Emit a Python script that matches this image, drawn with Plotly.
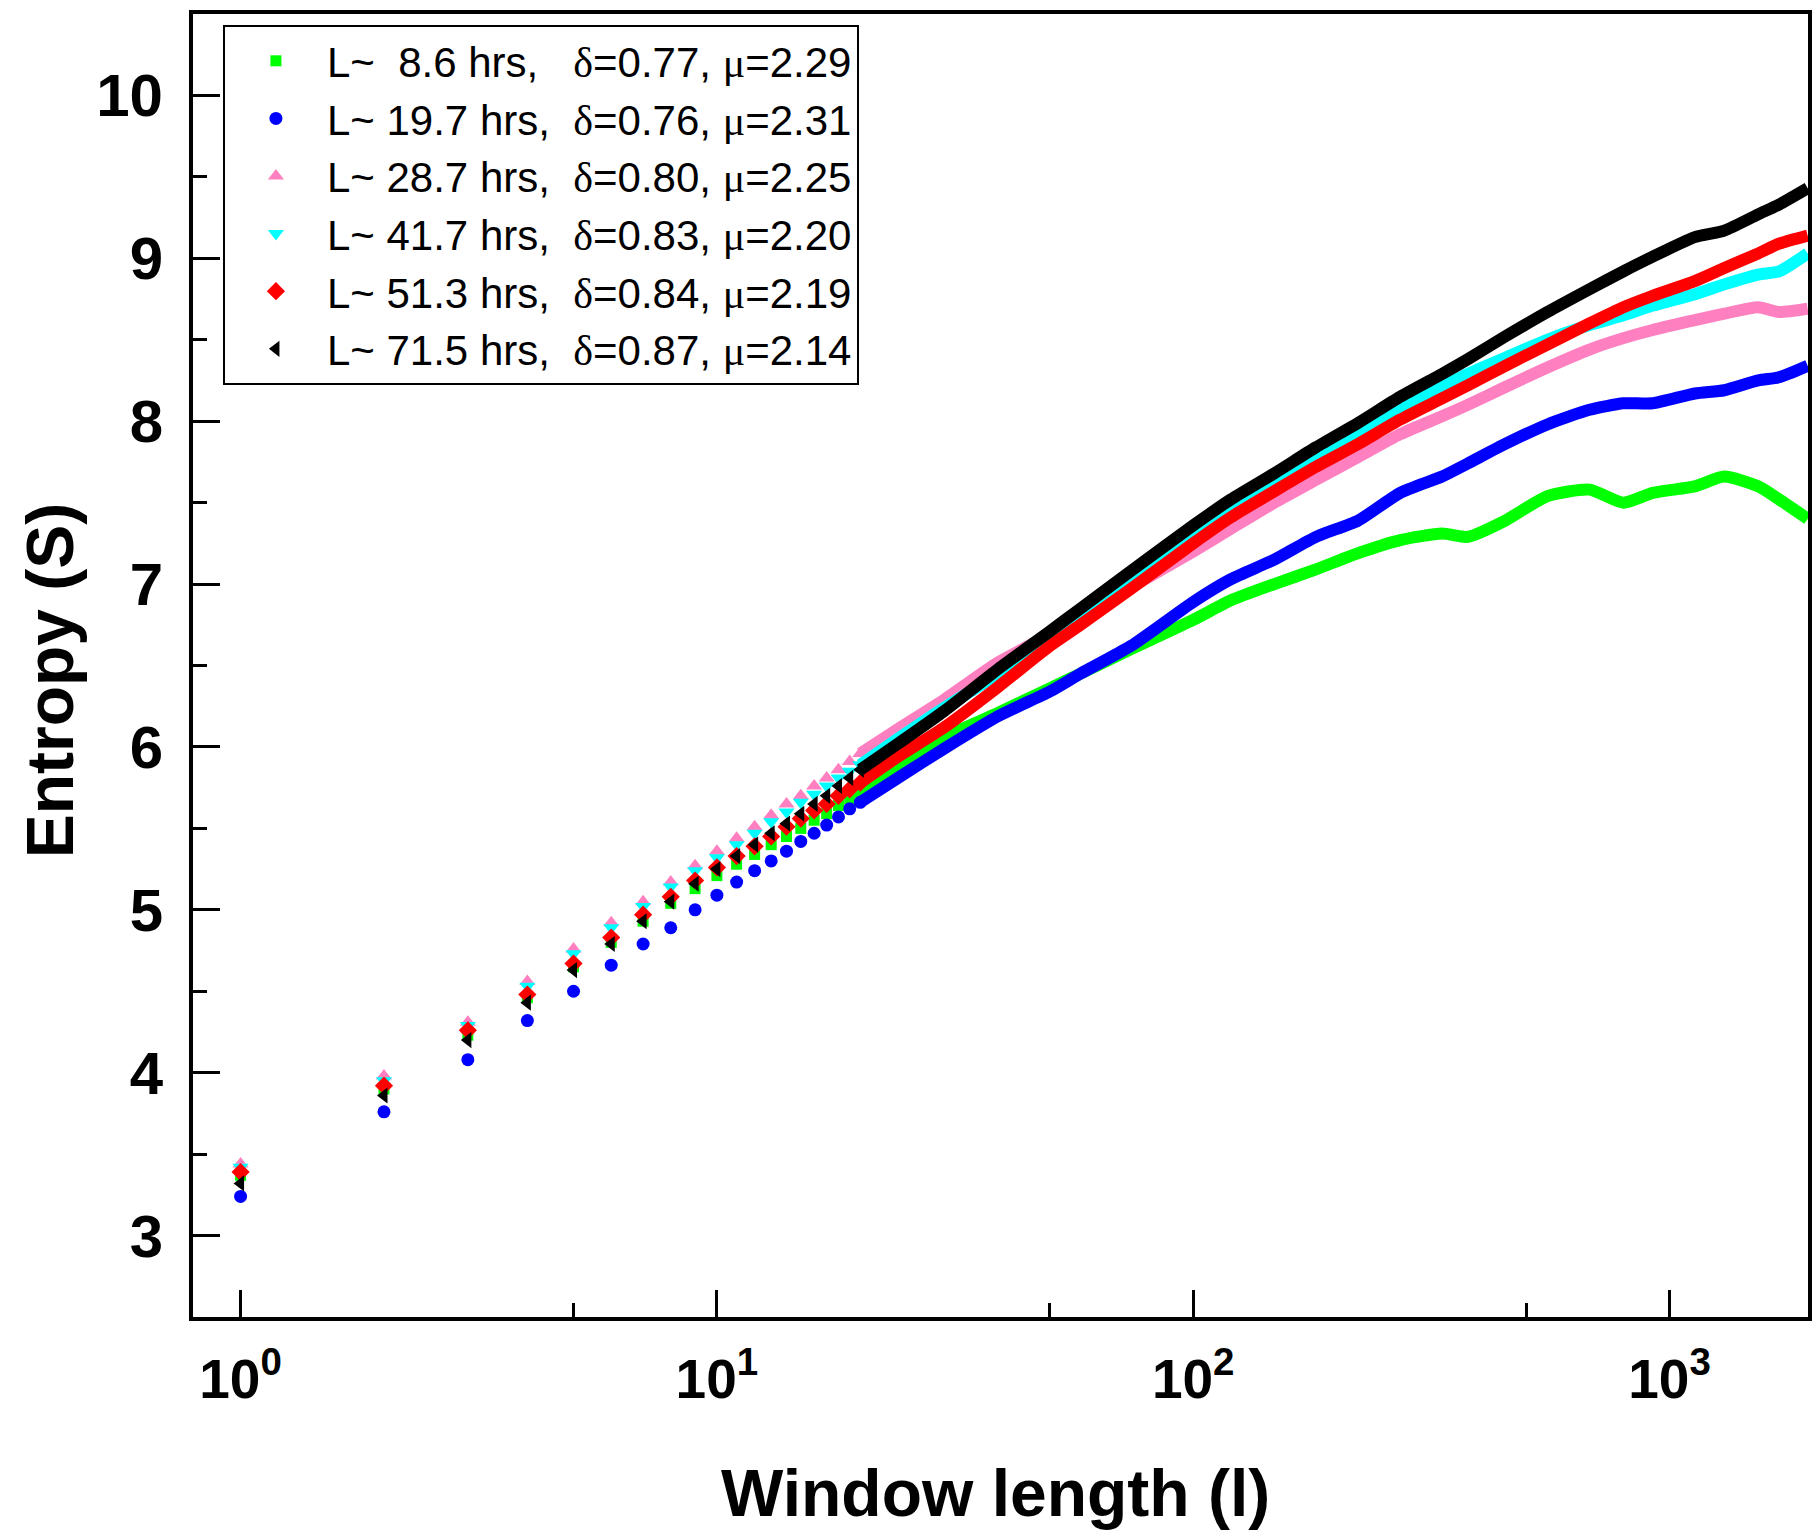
import plotly.graph_objects as go

# ---------------- data ----------------
L_small = list(range(1, 21))
S_green_small = [3.37, 3.90, 4.23, 4.46, 4.65, 4.80, 4.93, 5.04, 5.13, 5.21, 5.28, 5.34, 5.40, 5.45, 5.50, 5.55, 5.59, 5.64, 5.68, 5.72]
S_blue_small = [3.24, 3.76, 4.08, 4.32, 4.50, 4.66, 4.79, 4.89, 5.00, 5.09, 5.17, 5.24, 5.30, 5.36, 5.42, 5.47, 5.52, 5.57, 5.62, 5.66]
S_pink_small = [3.44, 3.98, 4.31, 4.56, 4.76, 4.92, 5.05, 5.17, 5.27, 5.36, 5.44, 5.51, 5.58, 5.65, 5.70, 5.76, 5.81, 5.86, 5.91, 5.96]
S_cyan_small = [3.42, 3.95, 4.29, 4.53, 4.73, 4.89, 5.02, 5.14, 5.24, 5.32, 5.40, 5.47, 5.54, 5.60, 5.66, 5.71, 5.76, 5.81, 5.85, 5.89]
S_red_small = [3.39, 3.92, 4.26, 4.48, 4.67, 4.83, 4.97, 5.08, 5.18, 5.26, 5.33, 5.39, 5.45, 5.51, 5.56, 5.61, 5.65, 5.70, 5.74, 5.78]
S_black_small = [3.32, 3.86, 4.20, 4.43, 4.63, 4.79, 4.93, 5.05, 5.16, 5.25, 5.33, 5.40, 5.47, 5.53, 5.59, 5.65, 5.70, 5.76, 5.81, 5.86]

L_big = [20, 24, 30, 39, 50, 58, 74, 100, 120, 148, 181, 222, 272, 333, 377, 452, 554, 679, 800, 922, 1130, 1303, 1535, 1698, 1950]
S_green_big = [5.72, 5.89, 6.06, 6.21, 6.36, 6.45, 6.60, 6.78, 6.90, 7.00, 7.09, 7.19, 7.27, 7.31, 7.29, 7.39, 7.54, 7.58, 7.50, 7.56, 7.60, 7.66, 7.60, 7.52, 7.40]
S_blue_big = [5.66, 5.81, 5.99, 6.19, 6.34, 6.45, 6.62, 6.89, 7.03, 7.15, 7.29, 7.39, 7.56, 7.66, 7.74, 7.86, 7.98, 8.07, 8.11, 8.11, 8.17, 8.19, 8.25, 8.27, 8.34]
S_pink_big = [5.96, 6.11, 6.29, 6.52, 6.69, 6.80, 6.98, 7.20, 7.34, 7.50, 7.64, 7.78, 7.92, 8.03, 8.10, 8.21, 8.33, 8.44, 8.51, 8.56, 8.62, 8.66, 8.70, 8.67, 8.69]
S_cyan_big = [5.89, 6.05, 6.24, 6.45, 6.67, 6.80, 7.03, 7.30, 7.46, 7.62, 7.78, 7.93, 8.08, 8.21, 8.29, 8.39, 8.50, 8.59, 8.65, 8.71, 8.78, 8.84, 8.90, 8.92, 9.03]
S_red_big = [5.78, 5.94, 6.12, 6.37, 6.62, 6.75, 6.97, 7.25, 7.41, 7.57, 7.72, 7.86, 8.01, 8.14, 8.22, 8.34, 8.47, 8.60, 8.70, 8.77, 8.86, 8.94, 9.03, 9.09, 9.14]
S_black_big = [5.86, 6.02, 6.22, 6.48, 6.71, 6.85, 7.08, 7.36, 7.52, 7.68, 7.84, 7.99, 8.15, 8.29, 8.38, 8.52, 8.67, 8.81, 8.92, 9.01, 9.13, 9.17, 9.27, 9.33, 9.43]

hours = ["8.6", "19.7", "28.7", "41.7", "51.3", "71.5"]
delta = ["0.77", "0.76", "0.80", "0.83", "0.84", "0.87"]
mu = ["2.29", "2.31", "2.25", "2.20", "2.19", "2.14"]

x_tick_vals = [1, 10, 100, 1000]
x_tick_text = ["10<sup>0</sup>", "10<sup>1</sup>", "10<sup>2</sup>", "10<sup>3</sup>"]
x_minor_vals = [5, 50, 500]

# ---------------- styling ----------------
colors = ["#00FF00", "#0000FF", "#FF80C0", "#00FFFF", "#FF0000", "#000000"]
symbols = ["square", "circle", "triangle-up", "triangle-down", "diamond", "triangle-left"]
msizes = [11, 13, 14, 14, 14, 14]

small = [S_green_small, S_blue_small, S_pink_small, S_cyan_small, S_red_small, S_black_small]
big = [S_green_big, S_blue_big, S_pink_big, S_cyan_big, S_red_big, S_black_big]

W, H = 1814, 1531
ML, MR, MT, MB = 193, 2, 14, 214
PW, PH = W - ML - MR, H - MT - MB


def px_x(p):
    return (p - ML) / PW


def px_y(p):
    return (H - MB - p) / PH


FONT = "Liberation Sans, Arial, sans-serif"
NB = "\u00a0"

fig = go.Figure()
for i in range(6):
    hrs = hours[i]
    pad = NB * 2 if len(hrs) == 3 else NB
    gap = NB * 3 if len(hrs) == 3 else NB * 2
    name = (f"L~{pad}{hrs} hrs,{gap}<span style='font-family:Liberation Serif'>δ</span>={delta[i]}, "
            f"<span style='font-family:Liberation Serif'>μ</span>={mu[i]}")
    fig.add_trace(go.Scatter(
        x=L_big, y=big[i], mode="lines",
        line=dict(color=colors[i], width=12, shape="spline", smoothing=0.6),
        legendgroup=str(i), showlegend=False, hoverinfo="skip"))
    fig.add_trace(go.Scatter(
        x=L_small, y=small[i], mode="markers", name=name,
        marker=dict(color=colors[i], symbol=symbols[i], size=msizes[i], line=dict(width=0)),
        legendgroup=str(i)))

axis_common = dict(
    showline=True, linecolor="black", linewidth=4, mirror=True,
    ticks="inside", ticklen=27, tickwidth=3, tickcolor="black",
    showgrid=False, zeroline=False,
)

x_right = 3.2865 + (4 - MR) / 477.5
fig.update_xaxes(
    type="log", range=[-0.0999, x_right],
    tickvals=x_tick_vals, ticktext=x_tick_text,
    tickfont=dict(family=FONT, size=55, color="black", weight="bold"),
    ticklabelstandoff=11,
    minor=dict(tickvals=x_minor_vals, ticks="inside", ticklen=14, tickwidth=3, tickcolor="black"),
    **axis_common)
fig.update_yaxes(
    range=[2.5, 10.5], dtick=1, tick0=0,
    tickfont=dict(family=FONT, size=60, color="black", weight="bold"),
    ticklabelstandoff=14,
    minor=dict(dtick=0.5, ticks="inside", ticklen=14, tickwidth=3, tickcolor="black"),
    **axis_common)

fig.add_annotation(text="<b>Window length (l)</b>", xref="paper", yref="paper",
                   x=px_x(997), y=px_y(1493), xanchor="center", yanchor="middle",
                   showarrow=False, font=dict(family=FONT, size=66, color="black"))
fig.add_annotation(text="<b>Entropy (S)</b>", xref="paper", yref="paper",
                   x=px_x(50), y=px_y(680), xanchor="center", yanchor="middle",
                   textangle=-90, showarrow=False, font=dict(family=FONT, size=66, color="black"))

fig.update_layout(
    width=W, height=H,
    margin=dict(l=ML, r=MR, t=MT, b=MB, pad=0),
    paper_bgcolor="white", plot_bgcolor="white",
    font=dict(family=FONT, color="black"),
    legend=dict(x=px_x(223), y=px_y(25), xanchor="left", yanchor="top",
                bgcolor="white", bordercolor="black", borderwidth=2,
                font=dict(family=FONT, size=42, color="black"),
                itemwidth=92, tracegroupgap=0),
    showlegend=True,
)

fig.write_html("out.html")
